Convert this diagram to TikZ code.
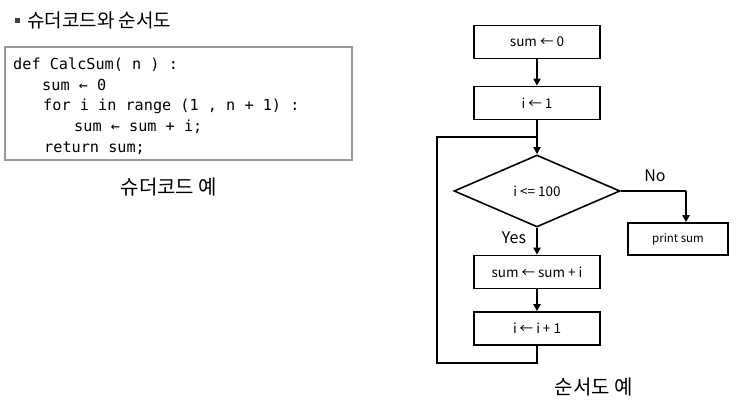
\documentclass[tikz,border=0pt]{standalone}
\usepackage{fontspec}
\setmainfont{Noto Sans CJK KR}
\newfontfamily\codefont{DejaVu Sans Mono}
\usetikzlibrary{shapes.geometric,arrows.meta}
\tikzset{
  flowbox/.style={draw, line width=1.6pt, minimum width=126pt, minimum height=33pt, inner sep=0pt, font=\fontsize{13.5}{15}\selectfont},
  flowline/.style={line width=1.8pt},
  flowarrow/.style={line width=1.8pt, -{Triangle[length=7pt,width=7pt]}},
  codeline/.style={anchor=base west, inner sep=0pt, font=\codefont\fontsize{15.2}{18}\selectfont},
  caption/.style={font=\fontsize{20}{22}\selectfont, inner sep=0pt},
  yesno/.style={font=\fontsize{16}{18}\selectfont, inner sep=0pt}
}
\begin{document}
\begin{tikzpicture}[x=1pt,y=-1pt]
\useasboundingbox (0,0) rectangle (748,415);
% title
\fill[black!75] (15,18) rectangle (20,23);
\node[anchor=west, inner sep=0pt, font=\fontsize{19}{21}\selectfont] (title) at (27,20) {슈더코드와 순서도};
% code box
\node[draw=black!40, line width=2pt, minimum width=347pt, minimum height=113pt, inner sep=0pt] (codebox) at (178.5,103.5) {};
\node[codeline] (c1) at (13,69) {def CalcSum( n ) :};
\node[codeline] (c2) at (42,90) {sum ← 0};
\node[codeline] (c3) at (43,110) {for i in range (1 , n + 1) :};
\node[codeline] (c4) at (74,131) {sum ← sum + i;};
\node[codeline] (c5) at (44,152) {return sum;};
\node[caption] (cap1) at (169,187) {슈더코드 예};
% flowchart
\node[flowbox] (b1) at (537,42) {sum ← 0};
\node[flowbox] (b2) at (537,103) {i ← 1};
\node[draw, diamond, line width=1.6pt, minimum width=166pt, minimum height=72pt, aspect=2.3, inner sep=0pt, font=\fontsize{13.5}{15}\selectfont] (dec) at (537,191) {i <= 100};
\node[flowbox] (b3) at (537,272) {sum ← sum + i};
\node[flowbox] (b4) at (537,328.5) {i ← i + 1};
\node[flowbox, minimum width=100pt, minimum height=32pt, font=\fontsize{11.5}{13}\selectfont] (pr) at (678,239) {print sum};
\coordinate (join) at (537,137);
\coordinate (lt) at (437,137);
\coordinate (lb) at (437,363);
\coordinate (rb) at (537,363);
\coordinate (nocorner) at (686,191);
\draw[flowline] (b2.south) -- (join);
\draw[flowarrow] (join) -- (dec.north);
\draw[flowarrow] (b1.south) -- (b2.north);
\draw[flowarrow] (dec.south) -- (b3.north);
\draw[flowarrow] (b3.south) -- (b4.north);
\draw[flowline] (b4.south) -- (rb) -- (lb) -- (lt) -- (join);
\draw[flowline] (dec.east) -- (nocorner);
\draw[flowarrow] (nocorner) -- (nocorner |- pr.north);
\node[yesno] (no) at (655,176) {No};
\node[yesno] (yes) at (514,238) {Yes};
\node[caption] (cap2) at (594,387) {순서도 예};
\end{tikzpicture}
\end{document}
